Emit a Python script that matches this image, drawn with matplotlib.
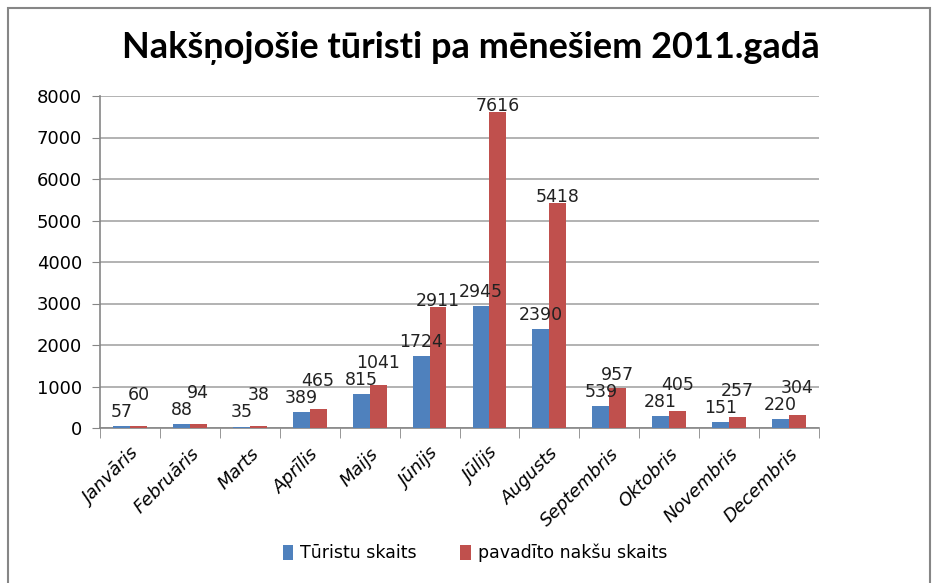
import matplotlib.pyplot as plt
import matplotlib.patches as mpatches
import numpy as np

months = ['Janvāris', 'Februāris', 'Marts', 'Aprīlis', 'Maijs', 'Jūnijs',
          'Jūlijs', 'Augusts', 'Septembris', 'Oktobris', 'Novembris', 'Decembris']
tourists = [57, 88, 35, 389, 815, 1724, 2945, 2390, 539, 281, 151, 220]
nights = [60, 94, 38, 465, 1041, 2911, 7616, 5418, 957, 405, 257, 304]

blue = '#4F81BD'
red = '#C0504D'

fig = plt.figure(figsize=(9.41, 5.83), dpi=100)
# outer chart border
fig.patches.append(mpatches.Rectangle((8 / 941, -0.05), 922 / 941, 1 - 8 / 583 + 0.05,
                                      transform=fig.transFigure, fill=False,
                                      edgecolor='#868686', linewidth=1.5))

ax = fig.add_axes([100 / 941, 1 - 428 / 583, 719 / 941, 332 / 583])

x = np.arange(len(months))
w = 0.283
ax.bar(x - w / 2, tourists, w, color=blue, label='Tūristu skaits', zorder=3)
ax.bar(x + w / 2, nights, w, color=red, label='pavadīto nakšu skaits', zorder=3)

# data labels, nudged so red ones clear the blue ones (like Excel did)
for i in range(len(months)):
    yb = tourists[i] + 340
    yr = max(nights[i] + 145, yb + 410)
    ax.text(x[i] - w / 2, yb, str(tourists[i]), ha='center', va='center',
            fontsize=12.5, color='#222222', zorder=4)
    ax.text(x[i] + w / 2, yr, str(nights[i]), ha='center', va='center',
            fontsize=12.5, color='#222222', zorder=4)

ax.set_xlim(-0.5, len(months) - 0.5)
ax.set_ylim(0, 8000)
ax.set_yticks(range(0, 8001, 1000))
ax.yaxis.grid(True, color='#A6A6A6', linewidth=1.2, zorder=0)
ax.set_xticks(x)
ax.set_xticklabels(months, rotation=45, ha='right', rotation_mode='anchor',
                   fontsize=13, style='italic')
ax.set_xticks(np.arange(-0.5, len(months)), minor=True)
ax.tick_params(axis='x', which='major', length=0, pad=12)
ax.tick_params(axis='x', which='minor', length=7, color='#868686')
ax.tick_params(axis='y', length=6, color='#868686', labelsize=13, pad=7)

for s in ['top', 'right']:
    ax.spines[s].set_visible(False)
ax.spines['left'].set_color('#868686')
ax.spines['bottom'].set_color('#868686')
ax.spines['left'].set_linewidth(1.2)
ax.spines['bottom'].set_linewidth(1.2)

fig.text(0.5, 1 - 48 / 583, 'Nakšņojošie tūristi pa mēnešiem 2011.gadā',
         ha='center', va='center', fontsize=26, fontweight='bold', family='Lato')

fig.legend(loc='center', bbox_to_anchor=(475 / 941, 1 - 553 / 583), ncol=2,
           frameon=False, handlelength=0.6, handleheight=1.0, fontsize=12.5,
           columnspacing=2.5, handletextpad=0.4)

plt.savefig('out.png', dpi=100)
